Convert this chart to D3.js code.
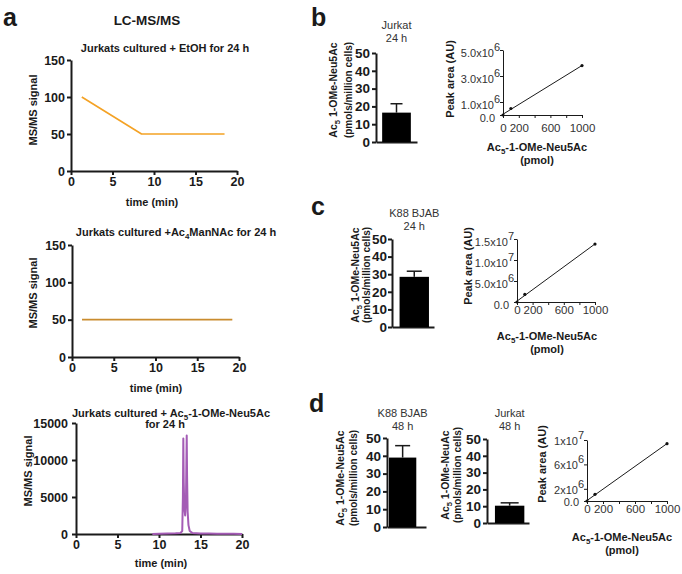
<!DOCTYPE html>
<html>
<head>
<meta charset="utf-8">
<script src="https://cdn.jsdelivr.net/npm/d3@7"></script>
<style>
  body { margin: 0; background: #fff; }
</style>
</head>
<body>
<script>
// ---- data ----
// panel a: chromatograms (time in min, MS/MS signal)
var etohTime = [1.3, 8.5, 18.5];
var etohSignal = [100, 50, 50];
var manTime = [1.2, 19.2];
var manSignal = [50, 50];
var omeTime = [9.2, 10, 11, 12, 12.6, 12.8, 12.88, 12.93, 12.98, 13.05, 13.15, 13.25, 13.3, 13.34, 13.38, 13.45, 13.55, 13.7, 14, 15, 16, 17, 18, 19, 20];
var omeSignal = [0, 40, 60, 90, 150, 400, 5000, 12900, 7000, 3500, 2500, 4500, 9500, 13300, 8000, 3000, 1200, 400, 150, 80, 60, 40, 30, 20, 10];
var chromXTicks = [0, 5, 10, 15, 20];

// panels b-d: cell amounts (pmols/million cells)
var barNames = ["Jurkat 24 h", "K88 BJAB 24 h", "K88 BJAB 48 h", "Jurkat 48 h"];
var barMeans = [16.5, 28.5, 39, 10.3];
var barErrors = [5, 3.2, 6.7, 1.7];
var barTicks = [0, 10, 20, 30, 40, 50];

// panels b-d: standard curves (pmol vs peak area)
var stdPmol = [0, 100, 1000];
var peakB = [0, 0.5e6, 3.8e6];
var peakC = [0, 1.8e6, 1.38e7];
var peakD = [0, 1.1e6, 9.4e6];
var pmolTicks = [0, 200, 400, 600, 800, 1000];
var pmolLabels = ["0", "200", "", "600", "", "1000"];
var peakTicksB = [0, 1e6, 3e6, 5e6];
var peakMantB = ["0.0", "1.0x10", "3.0x10", "5.0x10"];
var peakExpB = ["", "6", "6", "6"];
var peakTicksC = [0, 5e6, 1e7, 1.5e7];
var peakMantC = ["0.0", "5.0x10", "1.0x10", "1.5x10"];
var peakExpC = ["", "6", "7", "7"];
var peakTicksD = [0, 2e6, 6e6, 1e7];
var peakMantD = ["0.0", "2x10", "6x10", "1x10"];
var peakExpD = ["", "6", "6", "7"];

var FONT = "'Liberation Sans', Arial, Helvetica, sans-serif";
var INK = "#1a1a1a";

var svg = d3.select("body").append("svg")
  .attr("width", 682)
  .attr("height", 574)
  .attr("font-family", FONT);

// text with subscript pieces, centred on (cx, cy)
function rich(cx, cy, parts, o) {
  var size = o.size;
  var x = o.rotate ? cx + 0.35 * size : cx;
  var y = o.rotate ? cy : cy + 0.35 * size;
  var t = svg.append("text")
    .attr("x", x).attr("y", y)
    .attr("text-anchor", o.anchor || "middle")
    .attr("font-size", size)
    .attr("font-weight", o.weight || "bold")
    .attr("fill", o.fill || INK);
  if (o.rotate) t.attr("transform", "rotate(-90," + x + "," + y + ")");
  var shift = 0;
  parts.forEach(function(p) {
    var s = p[1] === "sub" ? size * 0.3 : 0;
    var sp = t.append("tspan").attr("dy", s - shift).text(p[0]);
    if (p[1] === "sub") sp.attr("font-size", size * 0.72);
    shift = s;
  });
  return t;
}

function styleAxis(a, size, weight, width, fill) {
  a.attr("font-size", size).attr("font-weight", weight).attr("font-family", FONT);
  a.selectAll("path, line").attr("stroke", INK).attr("stroke-width", width);
  a.selectAll("text").attr("fill", fill);
}

// ---- panel a ----
function chrom(o) {
  var x = d3.scaleLinear().domain([0, 20]).range([o.left, o.right]);
  var y = d3.scaleLinear().domain([0, o.yMax]).range([o.bottom, o.top]);

  var xa = svg.append("g")
    .attr("transform", "translate(0," + o.bottom + ")")
    .call(d3.axisBottom(x).tickValues(chromXTicks).tickSize(4).tickSizeOuter(0).tickPadding(2));
  var ya = svg.append("g")
    .attr("transform", "translate(" + o.left + ",0)")
    .call(d3.axisLeft(y).tickValues(o.yTicks).tickSize(4).tickSizeOuter(0).tickPadding(o.yPad).tickFormat(d3.format("d")));
  styleAxis(xa, 12.5, "bold", 2, INK);
  styleAxis(ya, 12.5, "bold", 2, INK);

  svg.append("path")
    .datum(d3.zip(o.t, o.s))
    .attr("fill", "none")
    .attr("stroke", o.color)
    .attr("stroke-width", o.lw)
    .attr("stroke-linejoin", "round")
    .attr("d", d3.line().x(function(d) { return x(d[0]); }).y(function(d) { return y(d[1]); }));

  o.titles.forEach(function(tl) { rich(tl[0], tl[1], tl[2], {size: 11}); });
  rich(o.xt[0], o.xt[1], [["time (min)"]], {size: 11});
  rich(o.yt[0], o.yt[1], [["MS/MS signal"]], {size: 11, rotate: true});
}

svg.append("text").attr("x", 3).attr("y", 26).attr("font-size", 25).attr("font-weight", "bold").attr("fill", INK).text("a");
rich(147, 20, [["LC-MS/MS"]], {size: 13.5});

chrom({left: 71, right: 237, top: 60, bottom: 171, yMax: 150, yTicks: [0, 50, 100, 150], yPad: 2,
  t: etohTime, s: etohSignal, color: "#f4a225", lw: 1.6,
  titles: [[165, 48, [["Jurkats cultured + EtOH for 24 h"]]]],
  xt: [152, 202], yt: [33, 110]});

chrom({left: 72, right: 239, top: 245, bottom: 357, yMax: 150, yTicks: [0, 50, 100, 150], yPad: 2,
  t: manTime, s: manSignal, color: "#c98c2e", lw: 1.6,
  titles: [[176, 232, [["Jurkats cultured +Ac"], ["4", "sub"], ["ManNAc for 24 h"]]]],
  xt: [156, 388], yt: [33, 293]});

chrom({left: 76, right: 242, top: 423, bottom: 534, yMax: 15000, yTicks: [0, 5000, 10000, 15000], yPad: 4,
  t: omeTime, s: omeSignal, color: "#a45cb5", lw: 2,
  titles: [[171, 413, [["Jurkats cultured + Ac"], ["5", "sub"], ["-1-OMe-Neu5Ac"]]], [165, 424, [["for 24 h"]]]],
  xt: [161, 563], yt: [28, 471]});

// ---- bar panels ----
function barPanel(i, o) {
  var y = d3.scaleLinear().domain([0, 50]).range([o.bottom, o.top]);
  var x = d3.scaleBand().domain([barNames[i]]).range([o.left, o.right])
    .paddingInner(0.3).paddingOuter(0.15).align(o.align);

  var ya = svg.append("g")
    .attr("transform", "translate(" + o.left + ",0)")
    .call(d3.axisLeft(y).tickValues(barTicks).tickSize(4).tickSizeOuter(0).tickPadding(o.pad));
  var xa = svg.append("g")
    .attr("transform", "translate(0," + o.bottom + ")")
    .call(d3.axisBottom(x).tickSize(0).tickSizeOuter(0).tickFormat(""));
  styleAxis(ya, 13.5, "bold", 2, INK);
  styleAxis(xa, 13.5, "bold", 2, INK);

  var cx = x(barNames[i]) + x.bandwidth() / 2;
  svg.append("rect")
    .attr("x", x(barNames[i]))
    .attr("y", y(barMeans[i]))
    .attr("width", x.bandwidth())
    .attr("height", y(0) - y(barMeans[i]))
    .attr("fill", "#000");
  var top = y(barMeans[i] + barErrors[i]);
  svg.append("line").attr("x1", cx).attr("x2", cx).attr("y1", y(barMeans[i])).attr("y2", top)
    .attr("stroke", INK).attr("stroke-width", 1.5);
  svg.append("line").attr("x1", cx - o.cap).attr("x2", cx + o.cap).attr("y1", top).attr("y2", top)
    .attr("stroke", INK).attr("stroke-width", 1.5);

  var name = barNames[i].split(" ");
  var hours = name.splice(-2).join(" ");
  rich(cx, o.ty, [[name.join(" ")]], {size: 11, weight: "normal", fill: "#333"});
  rich(cx, o.ty + 13.5, [[hours]], {size: 11, weight: "normal", fill: "#333"});

  rich(o.lx[0], o.lcy, [["Ac"], ["5", "sub"], [" " + o.compound]], {size: 10.5, rotate: true});
  rich(o.lx[1], o.lcy, [["(pmols/million cells)"]], {size: 10, rotate: true});
}

barPanel(0, {left: 376, right: 417, top: 53, bottom: 142, align: 0.5, cap: 6, ty: 25, pad: 2,
  lx: [333, 348], lcy: 90, compound: "1-OMe-Neu5Ac"});
barPanel(1, {left: 392, right: 434, top: 239, bottom: 327, align: 0.6, cap: 7.5, ty: 213, pad: 1,
  lx: [355, 366], lcy: 275, compound: "1-OMe-Neu5Ac"});
barPanel(2, {left: 387, right: 426, top: 438, bottom: 527, align: 0.17, cap: 7.5, ty: 413, pad: 2,
  lx: [340, 353], lcy: 478, compound: "1-OMe-Neu5Ac"});
barPanel(3, {left: 487, right: 529, top: 439, bottom: 523, align: 0.63, cap: 9, ty: 413, pad: 2,
  lx: [445, 457], lcy: 475, compound: "1-OMe-NeuAc"});

// ---- standard curves ----
function stdPanel(vals, ticks, mant, expo, o) {
  var x = d3.scaleLinear().domain([0, 1000]).range([o.left, o.right]);
  var y = d3.scaleLinear().domain([0, o.yMax]).range([o.bottom, o.top]);

  var xa = svg.append("g")
    .attr("transform", "translate(0," + o.bottom + ")")
    .call(d3.axisBottom(x).tickValues(pmolTicks).tickSize(3).tickSizeOuter(0).tickPadding(o.xPad)
      .tickFormat(function(d, i) { return pmolLabels[i]; }));
  var ya = svg.append("g")
    .attr("transform", "translate(" + o.left + ",0)")
    .call(d3.axisLeft(y).tickValues(ticks).tickSize(3).tickSizeOuter(0).tickFormat(""));
  styleAxis(xa, 11.5, "normal", 1, "#333");
  styleAxis(ya, 11.5, "normal", 1, "#333");

  ticks.forEach(function(v, i) {
    var t = svg.append("text")
      .attr("x", o.left - (expo[i] ? 3 : 8))
      .attr("y", y(v) + o.lOff + 3.8)
      .attr("text-anchor", "end")
      .attr("font-size", 11)
      .attr("fill", "#333");
    t.append("tspan").text(mant[i]);
    if (expo[i]) {
      t.append("tspan").attr("dy", -6).text(expo[i]);
    }
  });

  // least squares fit through the standards
  var mx = d3.mean(stdPmol), my = d3.mean(vals);
  var sxy = d3.sum(stdPmol, function(d, i) { return (d - mx) * (vals[i] - my); });
  var sxx = d3.sum(stdPmol, function(d) { return (d - mx) * (d - mx); });
  var slope = sxy / sxx, icpt = my - slope * mx;
  svg.append("line")
    .attr("x1", x(0)).attr("y1", y(Math.max(0, icpt)))
    .attr("x2", x(1000)).attr("y2", y(icpt + slope * 1000))
    .attr("stroke", INK).attr("stroke-width", 1);

  svg.append("g").selectAll("circle")
    .data(stdPmol)
    .enter()
    .append("circle")
      .attr("cx", function(d) { return x(d); })
      .attr("cy", function(d, i) { return y(vals[i]); })
      .attr("r", 1.6)
      .attr("fill", "#111");

  rich(o.yt[0], o.yt[1], [["Peak area (AU)"]], {size: 11, rotate: true});
  rich(o.xt[0], o.xt[1], [["Ac"], ["5", "sub"], ["-1-OMe-Neu5Ac"]], {size: 11});
  rich(o.xt[0], o.xt[1] + 13.5, [["(pmol)"]], {size: 11});
}

stdPanel(peakB, peakTicksB, peakMantB, peakExpB,
  {left: 503, right: 582, top: 50, bottom: 115, yMax: 5e6, xPad: 6, lOff: 3, yt: [450, 79], xt: [537, 147]});
stdPanel(peakC, peakTicksC, peakMantC, peakExpC,
  {left: 517, right: 595, top: 239, bottom: 302, yMax: 1.5e7, xPad: 1, lOff: 3, yt: [468, 266], xt: [547, 336]});
stdPanel(peakD, peakTicksD, peakMantD, peakExpD,
  {left: 587, right: 667, top: 440, bottom: 501, yMax: 1e7, xPad: 1, lOff: 1, yt: [542, 464], xt: [622, 537]});

// panel letters
[["b", 311, 26], ["c", 311, 215], ["d", 309, 412]].forEach(function(l) {
  svg.append("text").attr("x", l[1]).attr("y", l[2]).attr("font-size", 25)
    .attr("font-weight", "bold").attr("fill", INK).text(l[0]);
});
</script>
</body>
</html>
